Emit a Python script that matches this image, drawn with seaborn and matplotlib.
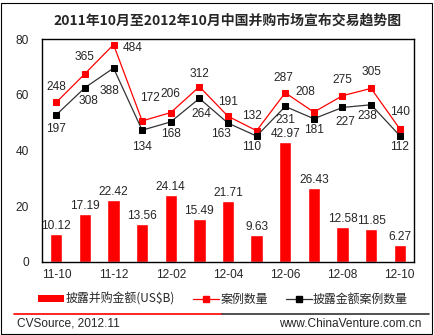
import numpy as np
import pandas as pd
import matplotlib
matplotlib.use("Agg")
import matplotlib.pyplot as plt
from matplotlib.lines import Line2D
from matplotlib.patches import Patch, Rectangle
import seaborn as sns

# Monthly M&A data, Oct 2011 - Oct 2012
months = ["11-10", "11-11", "11-12", "12-01", "12-02", "12-03", "12-04",
          "12-05", "12-06", "12-07", "12-08", "12-09", "12-10"]
amount_usd_b = [10.12, 17.19, 22.42, 13.56, 24.14, 15.49, 21.71,
                9.63, 42.97, 26.43, 12.58, 11.85, 6.27]
deal_count = [248, 365, 484, 172, 206, 312, 191, 132, 287, 208, 275, 305, 140]
disclosed_count = [197, 308, 388, 134, 168, 264, 163, 110, 231, 181, 227, 238, 112]
shown_ticks = ["11-10", "11-12", "12-02", "12-04", "12-06", "12-08", "12-10"]

# label offsets (pixels) for the two line series
deal_offsets = [(0, 15), (0, 17), (19, -3), (8, 23), (0, 19), (0, 13), (0, 14),
                (-5, 15), (-2, 15), (-8, 20), (0, 16), (0, 16), (0, 17)]
disc_offsets = [(0, -14), (4, -13), (-4, -23), (0, -17), (0, -12), (2, -16),
                (-7, -11), (-5, -11), (0, -14), (0, -11), (3, -15), (-4, -11),
                (0, -11)]

df = pd.DataFrame({"month": months, "amount": amount_usd_b,
                   "deals": deal_count, "disclosed": disclosed_count})

sns.set_style("white")
plt.rcParams["font.family"] = ["Liberation Sans", "Noto Sans CJK SC", "DejaVu Sans"]
CJK = ["Noto Sans CJK SC", "DejaVu Sans"]
FS = 8.6

W, H = 435, 335
fig = plt.figure(figsize=(W / 100, H / 100), dpi=100)
ax = fig.add_axes([42 / W, 1 - 262 / H, (414 - 42) / W, (262 - 39) / H])

sns.barplot(data=df, x="month", y="amount", color="#FF0000", saturation=1,
            width=0.43, ax=ax, zorder=2)
ax.set_xlim(-0.5, len(months) - 0.5)
ax.set_ylim(0, 80)
ax.set_yticks([0, 20, 40, 60, 80])
ax.set_yticklabels(["0", "20", "40", "60", "80"], fontsize=FS)
ax.set_xticks([months.index(m) for m in shown_ticks])
ax.set_xticklabels(shown_ticks, fontsize=FS)
ax.tick_params(axis="x", length=0, pad=5)
ax.tick_params(axis="y", length=0, pad=9.4)
ax.set_xlabel("")
ax.set_ylabel("")
for s in ax.spines.values():
    s.set_visible(True)
    s.set_color("black")
    s.set_linewidth(1.0)

for i, v in enumerate(amount_usd_b):
    ax.annotate(f"{v:.2f}", (i, v), xytext=(0, 2), textcoords="offset pixels",
                ha="center", va="bottom", fontsize=FS)

ax2 = ax.twinx()
sns.lineplot(data=df, x="month", y="deals", color="#FF0000", lw=0.9,
             marker="s", markersize=4.5, markeredgecolor="#FF0000", ax=ax2)
sns.lineplot(data=df, x="month", y="disclosed", color="#333333", lw=0.9,
             marker="s", markersize=4.5, markerfacecolor="black",
             markeredgecolor="black", ax=ax2)
ax2.set_ylim(-405, 507)
ax2.set_xlim(-0.5, len(months) - 0.5)
ax2.set_yticks([])
ax2.set_ylabel("")
ax2.set_xlabel("")
for s in ax2.spines.values():
    s.set_visible(False)

for i, (v, off) in enumerate(zip(deal_count, deal_offsets)):
    ax2.annotate(str(v), (i, v), xytext=off, textcoords="offset pixels",
                 ha="center", va="center", fontsize=FS)
for i, (v, off) in enumerate(zip(disclosed_count, disc_offsets)):
    ax2.annotate(str(v), (i, v), xytext=off, textcoords="offset pixels",
                 ha="center", va="center", fontsize=FS)

fig.text(228 / W, 1 - 21 / H, "2011年10月至2012年10月中国并购市场宣布交易趋势图",
         ha="center", va="center", fontsize=10, fontweight="bold", family=CJK)

handles = [
    Patch(facecolor="#FF0000", edgecolor="none"),
    Line2D([], [], color="#FF0000", lw=0.9, marker="s", markersize=4.5),
    Line2D([], [], color="#333333", lw=0.9, marker="s", markersize=4.5,
           markerfacecolor="black", markeredgecolor="black"),
]
labels = ["披露并购金额(US$B)", "案例数量", "披露金额案例数量"]
leg = fig.legend(handles, labels, loc="center", ncol=3,
                 bbox_to_anchor=(223 / W, 1 - 299 / H), frameon=False,
                 handlelength=2.2, handleheight=0.5, handletextpad=0.1,
                 columnspacing=1.5, prop={"family": CJK, "size": FS})

# separator line and footer
fig.add_artist(Line2D([14 / W, 222 / W], [1 - 314 / H] * 2, color="#FF0000",
                      lw=1.2, transform=fig.transFigure))
fig.add_artist(Line2D([222 / W, 429 / W], [1 - 314 / H] * 2, color="#333333",
                      lw=1.2, transform=fig.transFigure))
fig.text(17 / W, 1 - 324 / H, "CVSource, 2012.11", ha="left", va="center",
         fontsize=FS)
fig.text(421 / W, 1 - 324 / H, "www.ChinaVenture.com.cn", ha="right",
         va="center", fontsize=FS)

fig.add_artist(Rectangle((1.5 / W, 1.5 / H), 431 / W, 331 / H, fill=False,
                         edgecolor="black", lw=0.8, transform=fig.transFigure))

fig.savefig("out.png", dpi=100)
